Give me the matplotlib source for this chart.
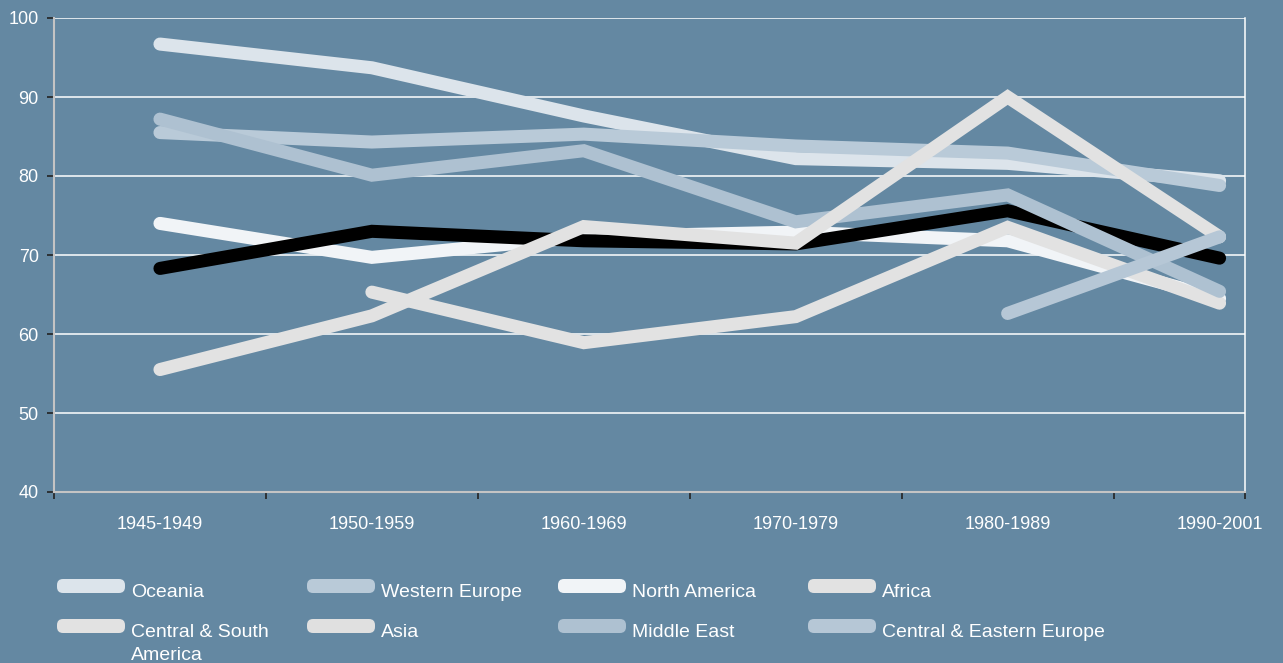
import numpy as np
import matplotlib
matplotlib.use("Agg")
import matplotlib.pyplot as plt
from matplotlib.patches import FancyBboxPatch
from matplotlib.transforms import IdentityTransform

plt.rcParams['font.family'] = ['Liberation Sans', 'DejaVu Sans']

periods = ['1945-1949', '1950-1959', '1960-1969', '1970-1979', '1980-1989', '1990-2001']

oceania = [96.7, 93.7, 87.6, 82.2, 81.6, 79.4]
western_europe = [85.5, 84.3, 85.3, 83.8, 82.9, 78.8]
north_america = [74.0, 69.7, 72.3, 72.9, 71.8, 64.5]
asia = [68.3, 73.0, 71.8, 71.4, 75.6, 69.6]
africa = [np.nan, 65.3, 58.9, 62.2, 73.5, 63.9]
middle_east = [87.2, 80.1, 83.2, 74.2, 77.6, 65.4]
central_south_america = [55.5, 62.3, 73.6, 71.5, 90.0, 72.3]
central_eastern_europe = [np.nan, np.nan, np.nan, np.nan, 62.6, 72.3]

bg = '#6488a2'

# name, values, legend colour, line colour, draw order
series = [
    ('Oceania', oceania, '#dce4eb', '#dce4eb', 2),
    ('Western Europe', western_europe, '#b9cad8', '#b9cad8', 3),
    ('North America', north_america, '#f1f4f7', '#f1f4f7', 4),
    ('Africa', africa, '#e2e2e2', '#e2e2e2', 6),
    ('Central & South\nAmerica', central_south_america, '#e2e2e2', '#e2e2e2', 8),
    ('Asia', asia, '#e0e0e0', '#000000', 5),
    ('Middle East', middle_east, '#aec1d1', '#aec1d1', 7),
    ('Central & Eastern Europe', central_eastern_europe, '#b6c7d6', '#b6c7d6', 9),
]

W, H = 1283, 663
fig = plt.figure(figsize=(W / 100, H / 100), dpi=100, facecolor=bg)
ax = fig.add_axes([54 / W, 1 - 492 / H, 1191 / W, 474 / H])
ax.set_facecolor(bg)

x = np.arange(len(periods))
lw = 9.4
for name, vals, _, lc, z in series:
    ax.plot(x, vals, color=lc, lw=lw, solid_capstyle='round',
            solid_joinstyle='miter', zorder=z)

ax.set_ylim(40, 100)
ax.set_xlim(-0.5, 5.12)
ax.set_yticks(np.arange(40, 101, 10))
ax.grid(axis='y', color='white', lw=1.1, zorder=1)
ax.set_axisbelow(True)

ax.set_xticks(x)
ax.set_xticklabels(periods)
ax.set_xticks(list(np.arange(-0.5, 5, 1.0)) + [5.12], minor=True)
ax.tick_params(axis='x', which='major', length=0, pad=17, labelsize=13,
               labelcolor='white')
ax.tick_params(axis='x', which='minor', length=5, width=1.2, color='#222222')
ax.tick_params(axis='y', length=5, width=1.2, color='#222222', pad=6,
               labelsize=13, labelcolor='white')

for side in ['left', 'bottom']:
    ax.spines[side].set_color('#c4c4c4')
    ax.spines[side].set_linewidth(1.5)
ax.spines['right'].set_color('white')
ax.spines['right'].set_linewidth(1.1)
ax.spines['top'].set_visible(False)

# legend laid out in a 4 x 2 grid below the axes (pixel positions)
col_x = [57, 307, 558, 808]
row_top = [579, 619]
for i, (name, vals, legc, lc, z) in enumerate(series):
    cx = col_x[i % 4]
    top = row_top[i // 4]
    swatch = FancyBboxPatch((cx, H - top - 14), 68, 14,
                            boxstyle='round,pad=0,rounding_size=6',
                            transform=IdentityTransform(),
                            facecolor=legc, edgecolor='none')
    fig.add_artist(swatch)
    for k, line in enumerate(name.split('\n')):
        fig.text((cx + 74) / W, 1 - (top + 18 + 23 * k) / H, line, color='white',
                 fontsize=14, va='baseline', ha='left')

fig.savefig('out.png', dpi=100, facecolor=bg)
